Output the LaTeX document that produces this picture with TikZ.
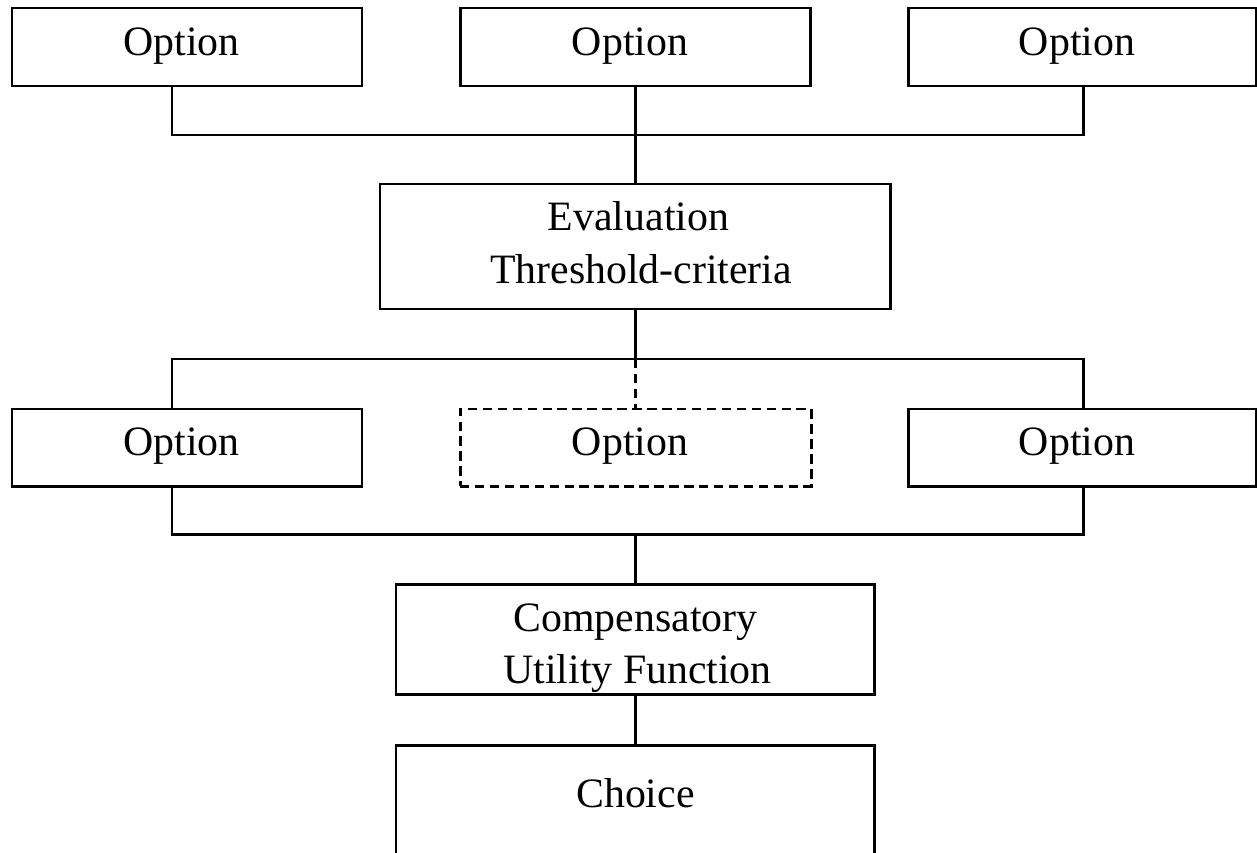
\documentclass[tikz,border=0pt]{standalone}
\usepackage{fontspec}
\setmainfont{Liberation Serif}
\usetikzlibrary{calc}
\begin{document}
\begin{tikzpicture}[x=0.02cm, y=-0.02cm,
  box/.style n args={2}{draw, line width=1.7pt, inner sep=0pt, outer sep=0pt,
    minimum width=#1*0.02cm, minimum height=#2*0.02cm},
  wire/.style={line width=1.7pt},
  dashline/.style={dash pattern=on 5.4pt off 3.1pt},
  lbl/.style={anchor=base, inner sep=0pt, font=\fontsize{23.8}{30}\selectfont}]
  \useasboundingbox (0,0) rectangle (1257,852);
  \clip (0,0) rectangle (1257,852);

  % boxes
  \node[box={350}{78}] (o1) at (187,47) {};
  \node[box={350}{78}] (o2) at (635,47) {};
  \node[box={348}{78}] (o3) at (1082,47) {};
  \node[box={510}{125}] (ev) at (635,246.5) {};
  \node[box={350}{77}] (m1) at (187,447.5) {};
  \node[box={351}{77}, dashline] (m2) at (635.5,447.5) {};
  \node[box={348}{77}] (m3) at (1082,447.5) {};
  \node[box={478}{110}] (cu) at (635,639) {};
  \node[box={478}{135}] (ch) at (635,812.5) {};

  % labels
  \node[lbl] (o1t) at ($(o1)+(-5.5,8.5)$) {Option};
  \node[lbl] (o2t) at ($(o2)+(-5,8.5)$) {Option};
  \node[lbl] (o3t) at ($(o3)+(-5,8.5)$) {Option};
  \node[lbl] (ev1) at (638.5,230) {Evaluation};
  \node[lbl] (ev2) at (641,283) {Threshold-criteria};
  \node[lbl] (m1t) at ($(m1)+(-5.5,7.5)$) {Option};
  \node[lbl] (m2t) at ($(m2)+(-5.5,7.5)$) {Option};
  \node[lbl] (m3t) at ($(m3)+(-5,7.5)$) {Option};
  \node[lbl] (cu1) at (635.5,631) {Compensatory};
  \node[lbl] (cu2) at (637.5,683) {Utility Function};
  \node[lbl] (cht) at (635.5,807) {Choice};

  % bus junctions
  \coordinate (t1) at (172,135);
  \coordinate (t3) at (1083,135);
  \coordinate (u1) at (172,359);
  \coordinate (u2) at (635,359);
  \coordinate (u3) at (1083,359);
  \coordinate (v1) at (172,534);
  \coordinate (v2) at (635,534);
  \coordinate (v3) at (1083,534);

  % connectors
  \draw[wire] (o1.south -| t1) -- (t1) -- (t3) -- (o3.south -| t3);
  \draw[wire] (o2.south) -- (ev.north);
  \draw[wire] (m1.north -| u1) -- (u1) -- (u3) -- (m3.north -| u3);
  \draw[wire] (ev.south) -- (u2);
  \draw[wire, dashline] (u2) -- (m2.north -| u2);
  \draw[wire] (m1.south -| v1) -- (v1) -- (v3) -- (m3.south -| v3);
  \draw[wire] (v2) -- (cu.north);
  \draw[wire] (cu.south) -- (ch.north);
\end{tikzpicture}
\end{document}
